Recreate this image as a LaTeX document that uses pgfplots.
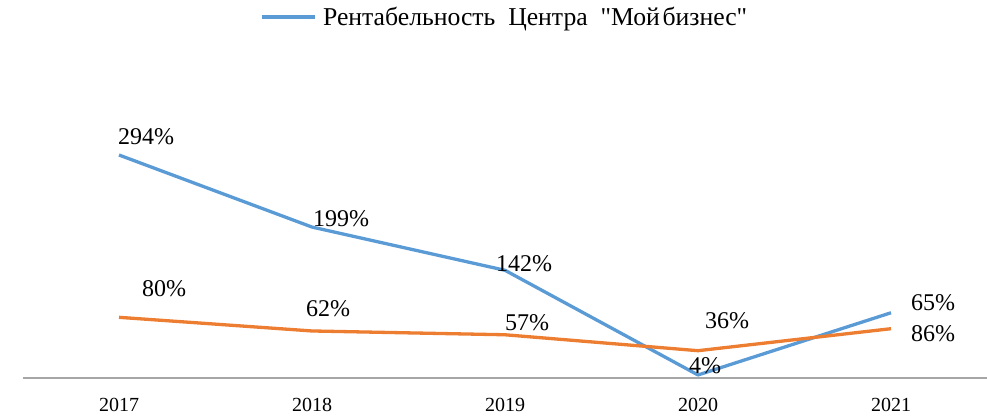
\documentclass[border=0pt]{standalone}
\usepackage{fontspec}
\setmainfont{Liberation Serif}[Ligatures=TeXOff]
\usepackage{pgfplots}
\usepackage{pgfplotstable}
\pgfplotsset{compat=1.18}
\definecolor{cblue}{HTML}{5B9BD5}
\definecolor{corange}{HTML}{ED7D31}
\definecolor{caxis}{HTML}{A6A6A6}
\pgfplotstableread{
x y lab dx dy
0 294 294\% 27 18
1 199 199\% 29 8
2 142 142\% 19 7
3 4 4\% 7 9
4 86 65\% 42 10
}\blueT
\pgfplotstableread{
x y lab dx dy
0 80 80\% 45 29
1 62 62\% 16 22
2 57 57\% 22 12
3 36 36\% 29 30
4 65 86\% 42 -5
}\orangeT
\begin{document}
\begin{tikzpicture}
\useasboundingbox (0,0) rectangle (987bp,417bp);
\begin{axis}[
  at={(22.5bp,39bp)}, anchor=south west,
  scale only axis, width=965bp, height=303.4bp,
  xmin=-0.5, xmax=4.5, ymin=0, ymax=400,
  axis y line=none, axis x line=bottom,
  x axis line style={draw=caxis, line width=1.5bp, -},
  xtick={0,1,2,3,4}, xticklabels={{2017},{2018},{2019},{2020},{2021}},
  major tick length=0pt,
  xticklabel style={font=\fontsize{20bp}{24bp}\selectfont, anchor=center, yshift=-27bp},
  ytick=\empty,
  clip=false,
  legend style={draw=none, fill=none, at={(0.5,1.19)}, anchor=center,
    font=\fontsize{25.7bp}{30bp}\selectfont, inner sep=0pt},
  legend image code/.code={\draw[#1] (0bp,0bp) -- (53bp,0bp);},
  nodes near coords={\pgfplotspointmeta},
  point meta=explicit symbolic,
  every node near coord/.style={font=\fontsize{24bp}{28bp}\selectfont, text=black, anchor=center, inner sep=0pt, xshift=\dx bp, yshift=\dy bp},
  visualization depends on={\thisrow{dx}\as\dx},
  visualization depends on={\thisrow{dy}\as\dy},
]
\addplot[color=cblue, line width=3.3bp, line join=round, mark=none] table[x=x, y=y, meta=lab] {\blueT};
\addlegendentry{\hspace{4bp}Рентабельность~ Центра~ "Мой\hspace{0.1em}бизнес"}
\addplot[color=corange, line width=3.3bp, line join=round, mark=none, forget plot] table[x=x, y=y, meta=lab] {\orangeT};
\end{axis}
\end{tikzpicture}
\end{document}
